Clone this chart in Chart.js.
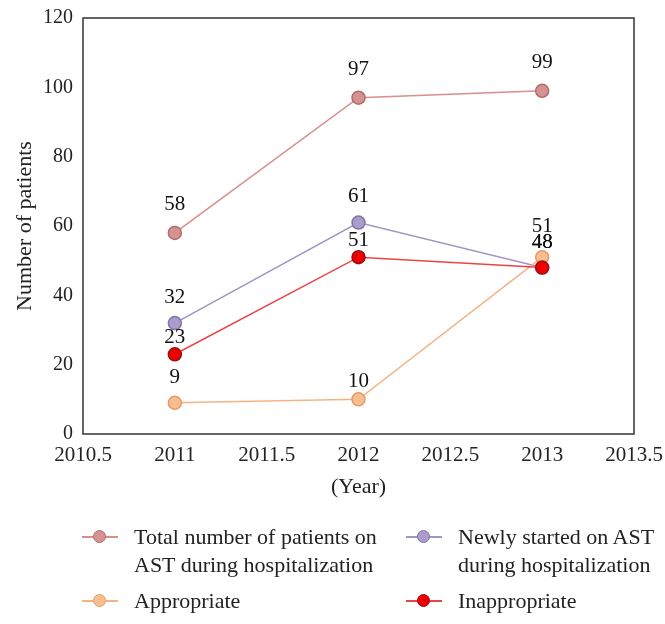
<!DOCTYPE html>
<html>
<head>
<meta charset="utf-8">
<script src="https://cdn.jsdelivr.net/npm/chart.js@4"></script>
<style>
  body { margin: 0; background: #fff; overflow: hidden; }
  #wrap { position: relative; width: 665px; height: 624px; }
  #legend { position: absolute; left: 0; top: 0; width: 665px; height: 624px; pointer-events: none;
            font-family: "Liberation Serif", serif; font-size: 22px; color: #222; }
  .item { position: absolute; white-space: nowrap; line-height: 28px; }
  .sym { position: absolute; width: 36px; height: 14px; }
  .sym .ln { position: absolute; left: 0; right: 0; top: 6px; height: 1.5px; }
  .sym .dot { position: absolute; left: 11px; top: 0; width: 11px; height: 11px; border-radius: 50%; border: 1.5px solid; }
</style>
</head>
<body>
<div id="wrap">
  <canvas id="c" width="665" height="510"></canvas>
  <div id="legend"></div>
</div>
<script>
const years = [2011, 2012, 2013];
const total = [58, 97, 99];
const newly = [32, 61, 48];
const appropriate = [9, 10, 51];
const inappropriate = [23, 51, 48];
const seriesNames = [
  ['Total number of patients on', 'AST during hospitalization'],
  ['Newly started on AST', 'during hospitalization'],
  ['Appropriate'],
  ['Inappropriate']
];
const yTicks = [0, 20, 40, 60, 80, 100, 120];

const lineColors = ['#d68e8e', '#a195c6', '#f5b385', '#e94444'];
const fillColors = ['#d49393', '#aa9ccb', '#f8be92', '#ee0000'];
const edgeColors = ['#b66a6a', '#8373a8', '#e59b68', '#981010'];
// draw order: inappropriate on top, total at the back
const drawOrder = [4, 3, 2, 1];
// vertical gap between point and its value label
const labelGaps = [
  [28, 28, 28],
  [26, 26, 25],
  [25, 18, 31],
  [17, 17, 25]
];

const allSeries = [total, newly, appropriate, inappropriate];
const font = 'Liberation Serif';

const datasets = allSeries.map((vals, i) => ({
  label: seriesNames[i].join(' '),
  data: years.map((y, j) => ({ x: y, y: vals[j] })),
  order: drawOrder[i],
  borderColor: lineColors[i],
  borderWidth: 1.5,
  pointBackgroundColor: fillColors[i],
  pointBorderColor: edgeColors[i],
  pointBorderWidth: 1.5,
  pointRadius: 6.5,
  tension: 0
}));

const valueLabels = {
  id: 'valueLabels',
  afterDatasetsDraw(chart) {
    const ctx = chart.ctx;
    ctx.save();
    ctx.font = '21px "' + font + '"';
    ctx.fillStyle = '#111';
    ctx.textAlign = 'center';
    ctx.textBaseline = 'middle';
    chart.data.datasets.forEach((ds, i) => {
      chart.getDatasetMeta(i).data.forEach((pt, j) => {
        ctx.fillText(String(ds.data[j].y), pt.x, pt.y - labelGaps[i][j]);
      });
    });
    ctx.restore();
  }
};

const frame = {
  id: 'frame',
  afterDraw(chart) {
    const a = chart.chartArea;
    const ctx = chart.ctx;
    ctx.save();
    ctx.strokeStyle = '#333';
    ctx.lineWidth = 1.5;
    ctx.strokeRect(a.left, a.top, a.right - a.left, a.bottom - a.top);
    ctx.restore();
  }
};

new Chart(document.getElementById('c'), {
  type: 'line',
  data: { datasets: datasets },
  options: {
    responsive: false,
    animation: false,
    layout: { padding: 0 },
    plugins: { legend: { display: false }, tooltip: { enabled: false } },
    scales: {
      x: {
        type: 'linear',
        min: 2010.5,
        max: 2013.5,
        ticks: {
          stepSize: 0.5,
          color: '#222',
          padding: 9,
          font: { family: font, size: 21 },
          callback: v => String(v)
        },
        grid: { display: false, drawTicks: false },
        border: { display: false },
        title: { display: true, text: '(Year)', color: '#222', font: { family: font, size: 22 }, padding: { top: 0, bottom: 10 } },
        afterFit: s => { s.height = 76; s.paddingLeft = 0; s.paddingRight = 31; }
      },
      y: {
        min: 0,
        max: 120,
        afterBuildTicks: s => { s.ticks = yTicks.map(v => ({ value: v })); },
        ticks: { color: '#222', padding: 10, font: { family: font, size: 20 } },
        grid: { display: false, drawTicks: false },
        border: { display: false },
        title: { display: true, text: 'Number of patients', color: '#222', font: { family: font, size: 22 }, padding: { top: 12, bottom: 0 } },
        afterFit: s => { s.width = 83; s.paddingTop = 18; s.paddingBottom = 0; }
      }
    }
  },
  plugins: [valueLabels, frame]
});

// legend below the chart
const legendPos = [[82, 523], [406, 523], [82, 587], [406, 587]];
const legend = document.getElementById('legend');
seriesNames.forEach((lines, i) => {
  const [lx, ly] = legendPos[i];
  const sym = document.createElement('div');
  sym.className = 'sym';
  sym.style.left = lx + 'px';
  sym.style.top = (ly + 7) + 'px';
  sym.innerHTML = '<div class="ln" style="background:' + lineColors[i] + '"></div>' +
    '<div class="dot" style="background:' + fillColors[i] + ';border-color:' + edgeColors[i] + '"></div>';
  legend.appendChild(sym);
  const txt = document.createElement('div');
  txt.className = 'item';
  txt.style.left = (lx + 52) + 'px';
  txt.style.top = ly + 'px';
  txt.innerHTML = lines.join('<br>');
  legend.appendChild(txt);
});
</script>
</body>
</html>
